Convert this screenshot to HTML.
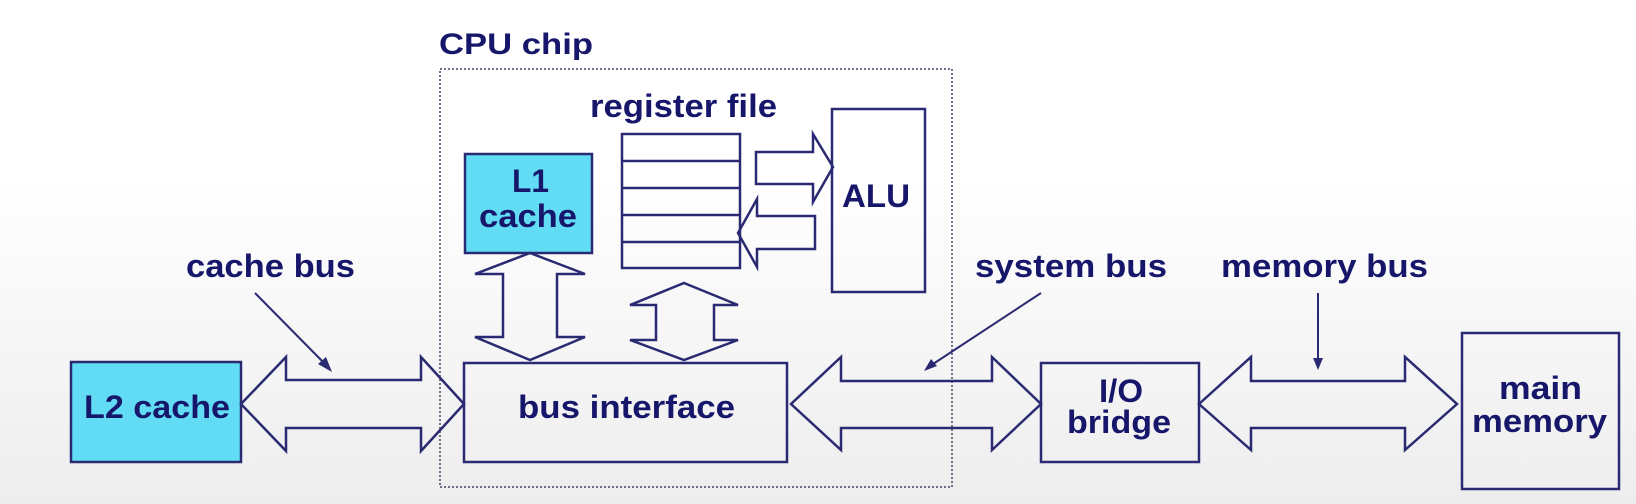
<!DOCTYPE html>
<html><head><meta charset="utf-8"><style>
html,body{margin:0;padding:0}
body{width:1636px;height:504px;overflow:hidden;background:linear-gradient(#ffffff 0%,#ffffff 35%,#ededed 100%)}
svg{display:block}
text{font-family:"Liberation Sans",Arial,sans-serif;font-weight:bold;fill:#16166a}
</style></head><body>
<svg width="1636" height="504" viewBox="0 0 1636 504" xmlns="http://www.w3.org/2000/svg">
<g fill="none" stroke="#2a2a72" stroke-width="2.5">
<rect x="440" y="69" width="512" height="418" stroke-dasharray="2 2" stroke-width="1.5" stroke="#444466"/>
<rect x="465" y="154" width="127" height="99" fill="#62dcf4"/>
<rect x="71" y="362" width="170" height="100" fill="#62dcf4"/>
<rect x="622" y="134" width="118" height="134" fill="none"/>
<line x1="622" y1="161" x2="740" y2="161"/>
<line x1="622" y1="188" x2="740" y2="188"/>
<line x1="622" y1="215" x2="740" y2="215"/>
<line x1="622" y1="242" x2="740" y2="242"/>
<rect x="832" y="109" width="93" height="183"/>
<rect x="464" y="363" width="323" height="99"/>
<rect x="1041" y="363" width="158" height="99"/>
<rect x="1462" y="333" width="157" height="156"/>
<polygon points="756,152 813,152 813,134 833,167 813,202 813,184 756,184"/>
<polygon points="815,216 757,216 757,199 738,233 757,267 757,249 815,249"/>
<polygon points="530,253 585,274 557,274 557,337 585,337 530,360 475,337 503,337 503,274 475,274"/>
<polygon points="684,283 738,305 714,305 714,340 738,340 684,360 630,340 656,340 656,305 630,305"/>
<polygon points="241,404 286,357 286,380 421,380 421,357 464,404 421,451 421,428 286,428 286,451"/>
<polygon points="791,404 841,357 841,381 992,381 992,357 1041,404 992,450 992,428 841,428 841,450"/>
<polygon points="1199,404 1251,357 1251,381 1405,381 1405,357 1457,404 1405,450 1405,428 1251,428 1251,450"/>
<line x1="255" y1="293" x2="327" y2="366" stroke-width="2"/>
<line x1="1041" y1="293" x2="930" y2="366" stroke-width="2"/>
<line x1="1318" y1="293" x2="1318" y2="362" stroke-width="2"/>
</g>
<g fill="#2a2a72">
<polygon points="332,372 318,364 326,357"/>
<polygon points="924,371 931,359 937,366"/>
<polygon points="1318,370 1313,358 1323,358"/>
</g>
<text x="439" y="54" font-size="30" textLength="154" lengthAdjust="spacingAndGlyphs">CPU chip</text>
<text x="590" y="117" font-size="32" textLength="187" lengthAdjust="spacingAndGlyphs">register file</text>
<text x="512" y="192" font-size="32" textLength="37" lengthAdjust="spacingAndGlyphs">L1</text>
<text x="479" y="227" font-size="32" textLength="98" lengthAdjust="spacingAndGlyphs">cache</text>
<text x="842" y="207" font-size="32" textLength="68" lengthAdjust="spacingAndGlyphs">ALU</text>
<text x="186" y="277" font-size="32" textLength="169" lengthAdjust="spacingAndGlyphs">cache bus</text>
<text x="975" y="277" font-size="32" textLength="192" lengthAdjust="spacingAndGlyphs">system bus</text>
<text x="1221" y="277" font-size="32" textLength="207" lengthAdjust="spacingAndGlyphs">memory bus</text>
<text x="84" y="418" font-size="32" textLength="146" lengthAdjust="spacingAndGlyphs">L2 cache</text>
<text x="518" y="418" font-size="32" textLength="217" lengthAdjust="spacingAndGlyphs">bus interface</text>
<text x="1099" y="402" font-size="32" textLength="44" lengthAdjust="spacingAndGlyphs">I/O</text>
<text x="1067" y="433" font-size="32" textLength="104" lengthAdjust="spacingAndGlyphs">bridge</text>
<text x="1499" y="399" font-size="32" textLength="83" lengthAdjust="spacingAndGlyphs">main</text>
<text x="1472" y="432" font-size="32" textLength="135" lengthAdjust="spacingAndGlyphs">memory</text>
</svg>
</body></html>
